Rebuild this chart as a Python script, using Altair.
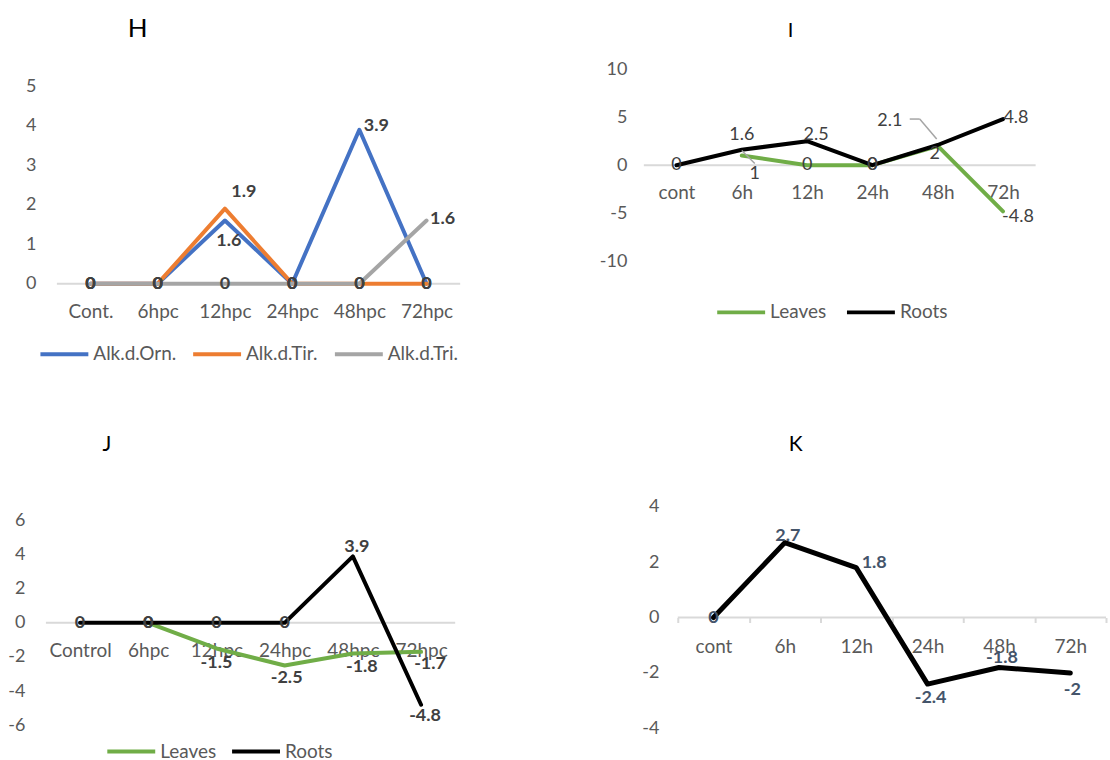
import altair as alt
import pandas as pd

# ---- data ---------------------------------------------------------------
H_CATS = ["Cont.", "6hpc", "12hpc", "24hpc", "48hpc", "72hpc"]
H_SERIES = ["Alk.d.Orn.", "Alk.d.Tir.", "Alk.d.Tri."]
H_ORN = [0, 0, 1.6, 0, 3.9, 0]
H_TIR = [0, 0, 1.9, 0, 0, 0]
H_TRI = [0, 0, 0, 0, 0, 1.6]

I_CATS = ["cont", "6h", "12h", "24h", "48h", "72h"]
I_SERIES = ["Leaves", "Roots"]
I_LEAVES = [None, 1, 0, 0, 2, -4.8]
I_ROOTS = [0, 1.6, 2.5, 0, 2.1, 4.8]

J_CATS = ["Control", "6hpc", "12hpc", "24hpc", "48hpc", "72hpc"]
J_SERIES = ["Leaves", "Roots"]
J_LEAVES = [None, 0, -1.5, -2.5, -1.8, -1.7]
J_ROOTS = [0, 0, 0, 0, 3.9, -4.8]

K_CATS = ["cont", "6h", "12h", "24h", "48h", "72h"]
K_VALUES = [0, 2.7, 1.8, -2.4, -1.8, -2]

# ---- data-label placement (pixel nudges from each point) -----------------
H_LABEL_OFFSETS = {
    ("Alk.d.Tir.", "12hpc"): (19, -17),
    ("Alk.d.Orn.", "12hpc"): (4, 21),
    ("Alk.d.Orn.", "48hpc"): (17, -4),
    ("Alk.d.Tri.", "72hpc"): (16, -2),
}
I_LABEL_OFFSETS = {
    ("Roots", "6h"): (0, -15),
    ("Leaves", "6h"): (13, 18),
    ("Roots", "12h"): (9, -6),
    ("Roots", "48h"): (-48, -24),
    ("Leaves", "48h"): (-3, 8),
    ("Roots", "72h"): (13, -1),
    ("Leaves", "72h"): (15, 6),
}
J_LABEL_OFFSETS = {
    ("Roots", "48hpc"): (4, -9),
    ("Roots", "72hpc"): (4, 11),
    ("Leaves", "12hpc"): (0, 15),
    ("Leaves", "24hpc"): (2, 13),
    ("Leaves", "48hpc"): (9, 13),
    ("Leaves", "72hpc"): (9, 12),
}
K_LABEL_OFFSETS = {
    ("K", "6h"): (3, -7),
    ("K", "12h"): (18, -5),
    ("K", "24h"): (3, 14),
    ("K", "48h"): (3, -9),
    ("K", "72h"): (2, 17),
}
# leader lines: (series, category, start offset, end offset)
I_LEADERS = [
    ("Leaves", "6h", (0, -5), (13, 8)),
    ("Roots", "48h", (-1, -6), (-18, -26)),
    ("Roots", "48h", (-18, -26), (-28, -26)),
]

FONT = "Lato"
TICK_COLOR = "#595959"
ZERO_COLOR = "#D9D9D9"
LEADER_COLOR = "#A5A5A5"
# legend swatch: a 48 px horizontal stroke inside a 15 px symbol cell
SWATCH_PATH = "M-3.2,0H3.2"


def long_frame(cats, series):
    rows = []
    for name, vals in series.items():
        for c, v in zip(cats, vals):
            rows.append({"cat": c, "series": name, "value": v,
                         "label": "" if v is None else f"{v:g}"})
    return pd.DataFrame(rows)


def panel(cats, series, colors, *, width, height, ydomain, yticks, pad_left,
          ypad, line_width, label_style, offsets, title, legend,
          band_ticks=False, leaders=()):
    n = len(cats)
    step = (width - pad_left) / n
    xscale = alt.Scale(domain=cats, paddingInner=0,
                       paddingOuter=pad_left / (2 * step),
                       align=1 if pad_left else 0.5)
    yscale = alt.Scale(domain=ydomain, nice=False, zero=False)
    zero_from_bottom = height * (0 - ydomain[0]) / (ydomain[1] - ydomain[0])

    xaxis = alt.Axis(orient="bottom", offset=-zero_from_bottom, domain=False,
                     grid=False, ticks=band_ticks, tickSize=5 if band_ticks else 0,
                     tickBand="extent", tickColor=ZERO_COLOR, tickWidth=2,
                     labelPadding=15 if band_ticks else 18.5, labelAngle=0,
                     labelFont=FONT, labelFontSize=19, labelColor=TICK_COLOR,
                     title=None)
    yaxis = alt.Axis(orient="left", offset=-pad_left, values=yticks,
                     domain=False, ticks=False, tickSize=0, grid=False,
                     labelPadding=ypad, labelFont=FONT, labelFontSize=18,
                     labelColor=TICK_COLOR, labelExpr="'' + datum.value",
                     title=None)

    def xenc(field="cat", **kw):
        return alt.X(f"{field}:N", scale=xscale, axis=xaxis, title=None, **kw)

    yenc = alt.Y("value:Q", scale=yscale, axis=yaxis, title=None)
    color = alt.Color("series:N", legend=legend,
                      scale=alt.Scale(domain=list(series), range=colors))

    df = long_frame(cats, series)

    zero_df = pd.DataFrame({"first": [cats[0]], "last": [cats[-1]], "value": [0]})
    layers = [
        alt.Chart(zero_df).mark_rule(color=ZERO_COLOR, strokeWidth=2).encode(
            x=xenc("first", bandPosition=0),
            x2=alt.X2("last:N", bandPosition=1),
            y=yenc,
        )
    ]

    for name in series:
        layers.append(
            alt.Chart(df[df["series"] == name]).mark_line(
                strokeWidth=line_width, strokeCap="round", strokeJoin="round"
            ).encode(x=xenc(), y=yenc, color=color)
        )

    for s, c, (x1, y1), (x2, y2) in leaders:
        seg = df[(df["series"] == s) & (df["cat"] == c)]
        layers.append(
            alt.Chart(seg).mark_rule(color=LEADER_COLOR, strokeWidth=1.5,
                                     xOffset=x1, yOffset=y1,
                                     x2Offset=x2, y2Offset=y2).encode(
                x=xenc(bandPosition=0.5),
                x2=alt.X2("cat:N", bandPosition=0.5),
                y=yenc,
                y2=alt.Y2("value:Q"),
            )
        )

    groups = {}
    for idx, row in df.iterrows():
        if row["label"] == "":
            continue
        off = offsets.get((row["series"], row["cat"]), (0, 0))
        groups.setdefault(off, []).append(idx)
    for (dx, dy), idxs in groups.items():
        layers.append(
            alt.Chart(df.loc[idxs]).mark_text(
                dx=dx, dy=dy, align="center", baseline="middle", font=FONT,
                **label_style
            ).encode(x=xenc(), y=yenc, text="label:N")
        )

    return alt.layer(*layers).properties(width=width, height=height, title=title)


def title_params(text, size, dx, offset):
    return alt.TitleParams(text=text, anchor="start", align="center",
                           frame="group", dx=dx, offset=offset,
                           baseline="middle", font=FONT, fontSize=size,
                           fontWeight="normal", color="black")


def legend_params(x, y, gap):
    return alt.Legend(title=None, orient="none", legendX=x, legendY=y,
                      direction="horizontal", symbolType=SWATCH_PATH,
                      symbolSize=225, symbolStrokeWidth=4, labelFont=FONT,
                      labelFontSize=19, labelColor=TICK_COLOR, labelOffset=19.5,
                      columnPadding=gap, padding=0)


bold_dark = {"fontSize": 18, "fontWeight": "bold", "color": "#404040"}

chart_h = panel(
    H_CATS, {"Alk.d.Orn.": H_ORN, "Alk.d.Tir.": H_TIR, "Alk.d.Tri.": H_TRI},
    ["#4472C4", "#ED7D31", "#A5A5A5"],
    width=415, height=215, ydomain=[0, 215 / 39.54], yticks=[0, 1, 2, 3, 4, 5],
    pad_left=11, ypad=21, line_width=4, label_style=bold_dark,
    offsets=H_LABEL_OFFSETS, title=title_params("H", 26, 92, 14.2),
    legend=legend_params(9, 276, 8),
)

chart_i = panel(
    I_CATS, {"Leaves": I_LEAVES, "Roots": I_ROOTS}, ["#70AD47", "#000000"],
    width=392.5, height=192.6, ydomain=[-10, 10], yticks=[-10, -5, 0, 5, 10],
    pad_left=0, ypad=17, line_width=4,
    label_style={"fontSize": 18, "fontWeight": "normal", "color": "#404040"},
    offsets=I_LABEL_OFFSETS, title=title_params("I", 20, 147, 9.4),
    legend=legend_params(88, 234, 12), leaders=I_LEADERS,
)

chart_j = panel(
    J_CATS, {"Leaves": J_LEAVES, "Roots": J_ROOTS}, ["#70AD47", "#000000"],
    width=410, height=219, ydomain=[-6, 6.82], yticks=[-6, -4, -2, 0, 2, 4, 6],
    pad_left=0, ypad=21, line_width=4, label_style=bold_dark,
    offsets=J_LABEL_OFFSETS, title=title_params("J", 21, 61, 40.8),
    legend=legend_params(76, 235.7, 7),
)

chart_k = panel(
    K_CATS, {"K": K_VALUES}, ["#000000"],
    width=463, height=222.3, ydomain=[-4, 4], yticks=[-4, -2, 0, 2, 4],
    pad_left=34, ypad=19, line_width=5,
    label_style={"fontSize": 18, "fontWeight": "bold", "color": "#44546A"},
    offsets=K_LABEL_OFFSETS, title=title_params("K", 21, 152, 31.8),
    legend=None, band_ticks=True,
)

chart = alt.concat(
    chart_h, chart_i, chart_j, chart_k,
    columns=2, spacing={"row": 223.3, "column": 184},
    bounds="flush", align="each",
).resolve_scale(color="independent").resolve_legend(color="independent").properties(
    padding={"left": 7, "top": 14.5, "right": 3, "bottom": 0},
    background="white",
).configure_view(strokeWidth=0)

chart.save("out.html", embed_options={"renderer": "svg", "actions": False})
